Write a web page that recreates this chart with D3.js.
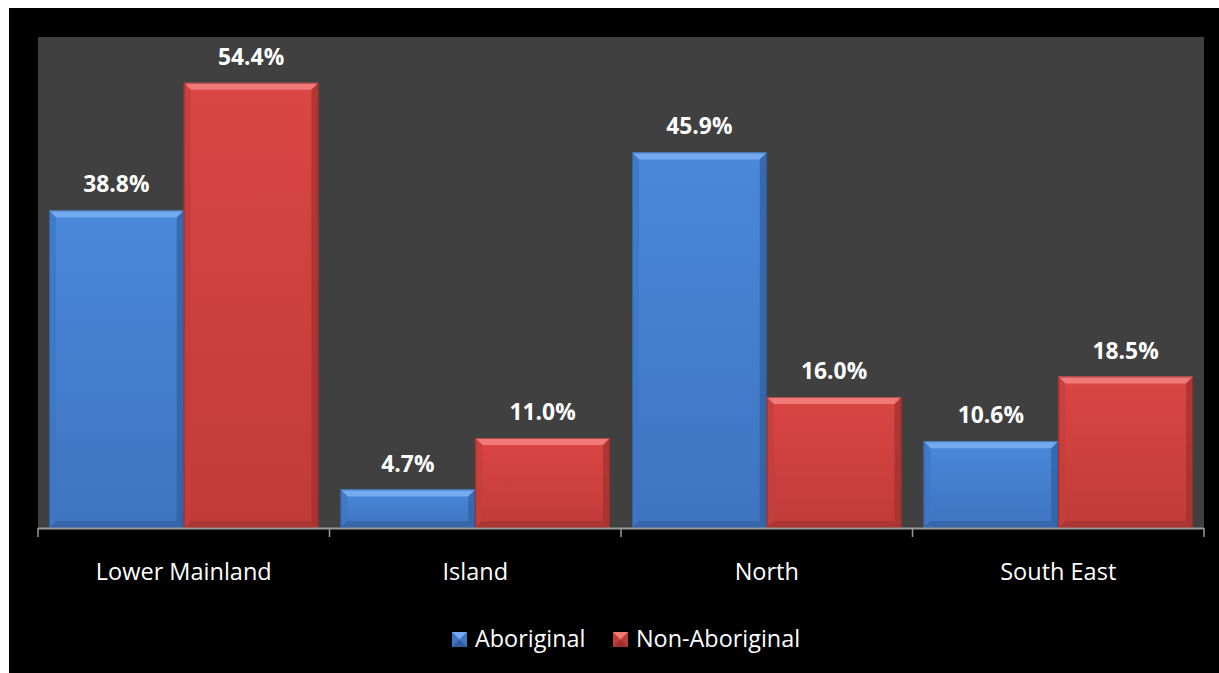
<!DOCTYPE html>
<html><head><meta charset="utf-8">
<script src="https://cdn.jsdelivr.net/npm/d3@7"></script>
<style>html,body{margin:0;padding:0;background:#fff;}svg{display:block;}</style>
</head><body>
<script>
const categories = ["Lower Mainland", "Island", "North", "South East"];
const seriesNames = ["Aboriginal", "Non-Aboriginal"];
const aboriginal = [38.8, 4.7, 45.9, 10.6];
const nonAboriginal = [54.4, 11.0, 16.0, 18.5];
const yDomain = [0, 60];

const W = 1219, H = 673;
const svg = d3.select("body").append("svg").attr("width", W).attr("height", H);
const font = "'Open Sans', 'DejaVu Sans', sans-serif";

svg.append("rect").attr("x", 9).attr("y", 8).attr("width", W - 9).attr("height", H - 8).attr("fill", "#000");

const plot = {left: 38, right: 1204, top: 37, bottom: 528};
svg.append("rect").attr("x", plot.left).attr("y", plot.top)
  .attr("width", plot.right - plot.left).attr("height", plot.bottom - plot.top).attr("fill", "#404040");

const x0 = d3.scaleBand().domain(categories).range([plot.left, plot.right]).paddingInner(0).paddingOuter(0);
const x1 = d3.scaleBand().domain(seriesNames).range([11, x0.bandwidth() - 11]).padding(0);
const y = d3.scaleLinear().domain(yDomain).range([plot.bottom, plot.top]);

const palette = {
  "Aboriginal": {top: "#4a88da", bot: "#3f74bf", hi: "#74aaf0", side: "#3f77c4", dark: "#2f5e9e", edge: "#2a5590"},
  "Non-Aboriginal": {top: "#da4644", bot: "#c03b38", hi: "#f07a78", side: "#c43e3b", dark: "#9e302d", edge: "#8a2a27"}
};
const defs = svg.append("defs");
seriesNames.forEach((s, i) => {
  const g = defs.append("linearGradient").attr("id", "g" + i).attr("x1", 0).attr("y1", 0).attr("x2", 0).attr("y2", 1);
  g.append("stop").attr("offset", "0%").attr("stop-color", palette[s].top);
  g.append("stop").attr("offset", "100%").attr("stop-color", palette[s].bot);
});

const data = [];
categories.forEach((c, ci) => {
  data.push({cat: c, series: "Aboriginal", si: 0, v: aboriginal[ci]});
  data.push({cat: c, series: "Non-Aboriginal", si: 1, v: nonAboriginal[ci]});
});

const bars = svg.append("g");
data.forEach(d => {
  const bx = x0(d.cat) + x1(d.series), bw = x1.bandwidth();
  const by = y(d.v), bh = plot.bottom - by;
  const p = palette[d.series];
  const g = bars.append("g");
  const b = Math.min(7, bh / 2);
  g.append("rect").attr("x", bx).attr("y", by).attr("width", bw).attr("height", bh).attr("fill", `url(#g${d.si})`);
  g.append("polygon").attr("points", [[bx, by], [bx + bw, by], [bx + bw - b, by + b], [bx + b, by + b]].join(" ")).attr("fill", p.hi);
  g.append("polygon").attr("points", [[bx, by], [bx + b, by + b], [bx + b, by + bh - b], [bx, by + bh]].join(" ")).attr("fill", p.side).attr("opacity", 0.8);
  g.append("polygon").attr("points", [[bx + bw, by], [bx + bw - b, by + b], [bx + bw - b, by + bh - b], [bx + bw, by + bh]].join(" ")).attr("fill", p.dark).attr("opacity", 0.7);
  g.append("polygon").attr("points", [[bx, by + bh], [bx + b, by + bh - b], [bx + bw - b, by + bh - b], [bx + bw, by + bh]].join(" ")).attr("fill", p.dark).attr("opacity", 0.6);
  g.append("rect").attr("x", bx + 0.5).attr("y", by + 0.5).attr("width", bw - 1).attr("height", bh - 1)
    .attr("fill", "none").attr("stroke", p.edge).attr("stroke-width", 1).attr("opacity", 0.6);
  svg.append("text").attr("x", bx + bw / 2).attr("y", by - 18).attr("text-anchor", "middle")
    .attr("fill", "#fff").attr("font-family", font).attr("font-weight", "bold").attr("font-size", 22.8)
    .text(d.v.toFixed(1) + "%");
});

const axis = svg.append("g");
axis.append("line").attr("x1", plot.left).attr("x2", plot.right).attr("y1", plot.bottom + 0.5).attr("y2", plot.bottom + 0.5)
  .attr("stroke", "#9a9a9a").attr("stroke-width", 2);
const tickXs = categories.map(c => x0(c)).concat([x0(categories[categories.length - 1]) + x0.bandwidth()]);
tickXs.forEach(tx => {
  axis.append("line").attr("x1", tx).attr("x2", tx).attr("y1", plot.bottom).attr("y2", plot.bottom + 9)
    .attr("stroke", "#9a9a9a").attr("stroke-width", 1.5);
});
categories.forEach(c => {
  axis.append("text").attr("x", x0(c) + x0.bandwidth() / 2).attr("y", 580).attr("text-anchor", "middle")
    .attr("fill", "#fff").attr("font-family", font).attr("font-size", 23.5).text(c);
});

const legendItems = [{name: "Aboriginal", x: 452, si: 0}, {name: "Non-Aboriginal", x: 613, si: 1}];
legendItems.forEach(li => {
  const p = palette[li.name];
  const sx = li.x, sy = 632, s = 15;
  svg.append("rect").attr("x", sx).attr("y", sy).attr("width", s).attr("height", s).attr("fill", p.bot);
  svg.append("polygon").attr("points", [[sx, sy], [sx + s, sy], [sx + s / 2, sy + s / 2]].join(" ")).attr("fill", p.hi);
  svg.append("polygon").attr("points", [[sx, sy + s], [sx + s, sy + s], [sx + s / 2, sy + s / 2]].join(" ")).attr("fill", p.dark);
  svg.append("text").attr("x", sx + 23).attr("y", 647).attr("fill", "#fff").attr("font-family", font)
    .attr("font-size", 23.4).text(li.name);
});
</script>
</body></html>
